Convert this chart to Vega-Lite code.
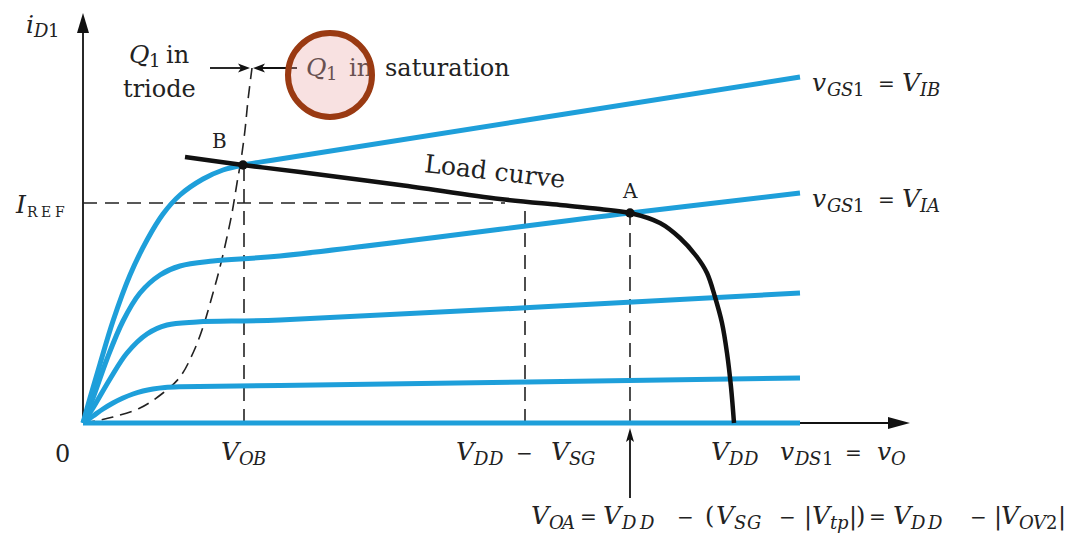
{
  "$schema": "https://vega.github.io/schema/vega-lite/v6.json",
  "width": 1086,
  "height": 537,
  "autosize": {"type": "fit", "contains": "padding"},
  "padding": 0,
  "background": "white",
  "config": {"view": {"stroke": null}, "text": {"font": "DejaVu Serif", "color": "#222222", "align": "left", "baseline": "alphabetic"}},
  "encoding": {
    "x": {"field": "x", "type": "quantitative", "scale": {"domain": [-8.3, 100.3], "nice": false, "zero": false}, "axis": null},
    "y": {"field": "y", "type": "quantitative", "scale": {"domain": [-11.4, 42.3], "nice": false, "zero": false}, "axis": null}
  },
  "datasets": {
    "axes": [
      {"x": 0, "y": 0, "x2": 0, "y2": 39.0},
      {"x": 0, "y": 0, "x2": 80.5, "y2": 0},
      {"x": 12.7, "y": 35.5, "x2": 15.8, "y2": 35.5},
      {"x": 17.9, "y": 35.5, "x2": 21.4, "y2": 35.5},
      {"x": 54.7, "y": -7.5, "x2": 54.7, "y2": -1.0}
    ],
    "guides": [
      {"x": 0, "y": 22.0, "x2": 42.2, "y2": 22.0},
      {"x": 16.1, "y": 0, "x2": 16.1, "y2": 25.8},
      {"x": 44.2, "y": 0, "x2": 44.2, "y2": 22.1},
      {"x": 54.7, "y": 0, "x2": 54.7, "y2": 21.0}
    ],
    "edge": [
      {"x": 0, "y": 0}, {"x": 0.7, "y": 0.1}, {"x": 3.0, "y": 0.6}, {"x": 5.7, "y": 1.5},
      {"x": 8.0, "y": 3.0}, {"x": 9.7, "y": 4.6}, {"x": 11.0, "y": 7.0}, {"x": 12.0, "y": 9.6},
      {"x": 13.0, "y": 13.0}, {"x": 13.7, "y": 15.6}, {"x": 14.4, "y": 18.6}, {"x": 14.9, "y": 21.0},
      {"x": 15.4, "y": 24.0}, {"x": 15.8, "y": 26.3}, {"x": 16.2, "y": 29.3}, {"x": 16.5, "y": 32.3},
      {"x": 16.9, "y": 35.5}
    ],
    "curves": [
      {"c": "c1", "x": 0, "y": 0}, {"c": "c1", "x": 71.7, "y": 0},
      {"c": "c2", "x": 0, "y": 0}, {"c": "c2", "x": 1.0, "y": 0.7}, {"c": "c2", "x": 2.0, "y": 1.4},
      {"c": "c2", "x": 3.0, "y": 2.0}, {"c": "c2", "x": 4.0, "y": 2.5}, {"c": "c2", "x": 5.0, "y": 2.9},
      {"c": "c2", "x": 6.0, "y": 3.2}, {"c": "c2", "x": 7.0, "y": 3.4}, {"c": "c2", "x": 8.2, "y": 3.55},
      {"c": "c2", "x": 9.7, "y": 3.62}, {"c": "c2", "x": 19.7, "y": 3.75}, {"c": "c2", "x": 71.7, "y": 4.5},
      {"c": "c3", "x": 0, "y": 0}, {"c": "c3", "x": 1.0, "y": 1.5}, {"c": "c3", "x": 2.7, "y": 4.4},
      {"c": "c3", "x": 4.4, "y": 7.0}, {"c": "c3", "x": 6.4, "y": 8.9}, {"c": "c3", "x": 8.4, "y": 9.8},
      {"c": "c3", "x": 11.4, "y": 10.1}, {"c": "c3", "x": 19.7, "y": 10.3}, {"c": "c3", "x": 71.7, "y": 13.0},
      {"c": "c4", "x": 0, "y": 0}, {"c": "c4", "x": 1.0, "y": 2.5}, {"c": "c4", "x": 2.4, "y": 6.4},
      {"c": "c4", "x": 4.0, "y": 10.2}, {"c": "c4", "x": 5.7, "y": 13.0}, {"c": "c4", "x": 7.7, "y": 14.8},
      {"c": "c4", "x": 9.7, "y": 15.7}, {"c": "c4", "x": 13.0, "y": 16.2}, {"c": "c4", "x": 19.7, "y": 16.7},
      {"c": "c4", "x": 54.7, "y": 21.0}, {"c": "c4", "x": 71.7, "y": 23.0},
      {"c": "c5", "x": 0, "y": 0}, {"c": "c5", "x": 0.7, "y": 2.5}, {"c": "c5", "x": 1.7, "y": 5.9},
      {"c": "c5", "x": 3.0, "y": 10.2}, {"c": "c5", "x": 4.7, "y": 14.8}, {"c": "c5", "x": 6.4, "y": 18.3},
      {"c": "c5", "x": 8.0, "y": 20.9}, {"c": "c5", "x": 9.7, "y": 22.8}, {"c": "c5", "x": 12.0, "y": 24.4},
      {"c": "c5", "x": 14.0, "y": 25.3}, {"c": "c5", "x": 16.0, "y": 25.8}, {"c": "c5", "x": 19.7, "y": 26.4},
      {"c": "c5", "x": 71.7, "y": 34.6}
    ],
    "load": [
      {"x": 10.2, "y": 26.6}, {"x": 16.0, "y": 25.8}, {"x": 21.7, "y": 25.1}, {"x": 31.7, "y": 23.8},
      {"x": 41.7, "y": 22.4}, {"x": 47.7, "y": 21.8}, {"x": 51.7, "y": 21.4}, {"x": 54.7, "y": 21.0},
      {"x": 57.7, "y": 20.0}, {"x": 59.7, "y": 18.5}, {"x": 61.4, "y": 16.6}, {"x": 62.4, "y": 15.0},
      {"x": 63.2, "y": 12.6}, {"x": 63.9, "y": 10.0}, {"x": 64.4, "y": 7.0}, {"x": 64.8, "y": 3.6},
      {"x": 65.1, "y": 0}
    ],
    "heads": [
      {"k": "up", "x": 0, "y": 40.0},
      {"k": "right", "x": 81.6, "y": 0},
      {"k": "tipR", "x": 16.1, "y": 35.5},
      {"k": "tipL", "x": 17.6, "y": 35.5},
      {"k": "tipU", "x": 54.7, "y": -1.2}
    ],
    "dots": [
      {"p": "B", "x": 16.0, "y": 25.8},
      {"p": "A", "x": 54.7, "y": 21.0}
    ],
    "ring": [{"x": 24.7, "y": 34.8}],
    "labels": [
      {"t": "i", "x": -5.7, "y": 39.0, "role": "sym"},
      {"t": "D", "x": -4.9, "y": 38.6, "role": "sub"},
      {"t": "1", "x": -3.5, "y": 38.6, "role": "num"},
      {"t": "I", "x": -6.7, "y": 21.0, "role": "sym"},
      {"t": "R", "x": -5.6, "y": 20.6, "role": "ref"},
      {"t": "E", "x": -4.2, "y": 20.6, "role": "ref"},
      {"t": "F", "x": -2.8, "y": 20.6, "role": "ref"},
      {"t": "Q", "x": 4.6, "y": 36.0, "role": "sym"},
      {"t": "1", "x": 6.6, "y": 35.6, "role": "num"},
      {"t": "in", "x": 8.3, "y": 36.0, "role": "word"},
      {"t": "triode", "x": 4.0, "y": 32.6, "role": "word"},
      {"t": "Q", "x": 22.3, "y": 34.7, "role": "sym"},
      {"t": "1", "x": 24.3, "y": 34.3, "role": "num"},
      {"t": "in", "x": 26.6, "y": 34.7, "role": "word"},
      {"t": "saturation", "x": 30.2, "y": 34.7, "role": "word"},
      {"t": "B", "x": 12.9, "y": 27.5, "role": "pt"},
      {"t": "A", "x": 54.0, "y": 22.5, "role": "pt"},
      {"t": "Load curve", "x": 41.1, "y": 24.3, "role": "rot"},

      {"t": "v", "x": 72.9, "y": 33.2, "role": "sym"},
      {"t": "G", "x": 74.4, "y": 32.7, "role": "sub"},
      {"t": "S", "x": 75.8, "y": 32.7, "role": "sub"},
      {"t": "1", "x": 77.0, "y": 32.7, "role": "num"},
      {"t": "=", "x": 79.5, "y": 33.2, "role": "op"},
      {"t": "V", "x": 81.9, "y": 33.2, "role": "sym"},
      {"t": "I", "x": 83.7, "y": 32.7, "role": "sub"},
      {"t": "B", "x": 84.4, "y": 32.7, "role": "sub"},

      {"t": "v", "x": 72.9, "y": 21.6, "role": "sym"},
      {"t": "G", "x": 74.4, "y": 21.1, "role": "sub"},
      {"t": "S", "x": 75.8, "y": 21.1, "role": "sub"},
      {"t": "1", "x": 77.0, "y": 21.1, "role": "num"},
      {"t": "=", "x": 79.5, "y": 21.6, "role": "op"},
      {"t": "V", "x": 81.9, "y": 21.6, "role": "sym"},
      {"t": "I", "x": 83.7, "y": 21.1, "role": "sub"},
      {"t": "A", "x": 84.4, "y": 21.1, "role": "sub"},

      {"t": "0", "x": -2.8, "y": -3.9, "role": "word"},
      {"t": "V", "x": 13.8, "y": -3.7, "role": "sym"},
      {"t": "O", "x": 15.6, "y": -4.2, "role": "sub"},
      {"t": "B", "x": 17.0, "y": -4.2, "role": "sub"},
      {"t": "V", "x": 37.3, "y": -3.7, "role": "sym"},
      {"t": "D", "x": 39.1, "y": -4.2, "role": "sub"},
      {"t": "D", "x": 40.6, "y": -4.2, "role": "sub"},
      {"t": "−", "x": 43.3, "y": -3.7, "role": "op"},
      {"t": "V", "x": 46.8, "y": -3.7, "role": "sym"},
      {"t": "S", "x": 48.6, "y": -4.2, "role": "sub"},
      {"t": "G", "x": 49.8, "y": -4.2, "role": "sub"},
      {"t": "V", "x": 62.8, "y": -3.7, "role": "sym"},
      {"t": "D", "x": 64.6, "y": -4.2, "role": "sub"},
      {"t": "D", "x": 66.1, "y": -4.2, "role": "sub"},
      {"t": "v", "x": 69.7, "y": -3.7, "role": "sym"},
      {"t": "D", "x": 71.2, "y": -4.2, "role": "sub"},
      {"t": "S", "x": 72.6, "y": -4.2, "role": "sub"},
      {"t": "1", "x": 73.9, "y": -4.2, "role": "num"},
      {"t": "=", "x": 76.2, "y": -3.7, "role": "op"},
      {"t": "v", "x": 79.4, "y": -3.7, "role": "sym"},
      {"t": "O", "x": 80.8, "y": -4.2, "role": "sub"},

      {"t": "V", "x": 44.8, "y": -10.1, "role": "sym"},
      {"t": "O", "x": 46.6, "y": -10.6, "role": "sub"},
      {"t": "A", "x": 47.9, "y": -10.6, "role": "sub"},
      {"t": "=", "x": 49.7, "y": -10.1, "role": "op"},
      {"t": "V", "x": 52.0, "y": -10.1, "role": "sym"},
      {"t": "D", "x": 53.9, "y": -10.6, "role": "sub"},
      {"t": "D", "x": 55.7, "y": -10.6, "role": "sub"},
      {"t": "−", "x": 59.4, "y": -10.1, "role": "op"},
      {"t": "(", "x": 62.2, "y": -10.1, "role": "word"},
      {"t": "V", "x": 63.3, "y": -10.1, "role": "sym"},
      {"t": "S", "x": 65.1, "y": -10.6, "role": "sub"},
      {"t": "G", "x": 66.4, "y": -10.6, "role": "sub"},
      {"t": "−", "x": 69.6, "y": -10.1, "role": "op"},
      {"t": "|", "x": 72.1, "y": -10.1, "role": "word"},
      {"t": "V", "x": 72.9, "y": -10.1, "role": "sym"},
      {"t": "t", "x": 74.7, "y": -10.6, "role": "sub"},
      {"t": "p", "x": 75.4, "y": -10.6, "role": "sub"},
      {"t": "|", "x": 76.6, "y": -10.1, "role": "word"},
      {"t": ")", "x": 77.3, "y": -10.1, "role": "word"},
      {"t": "=", "x": 78.6, "y": -10.1, "role": "op"},
      {"t": "V", "x": 81.0, "y": -10.1, "role": "sym"},
      {"t": "D", "x": 82.8, "y": -10.6, "role": "sub"},
      {"t": "D", "x": 84.5, "y": -10.6, "role": "sub"},
      {"t": "−", "x": 88.7, "y": -10.1, "role": "op"},
      {"t": "|", "x": 91.1, "y": -10.1, "role": "word"},
      {"t": "V", "x": 91.8, "y": -10.1, "role": "sym"},
      {"t": "O", "x": 93.6, "y": -10.6, "role": "sub"},
      {"t": "V", "x": 95.0, "y": -10.6, "role": "sub"},
      {"t": "2", "x": 96.3, "y": -10.6, "role": "num"},
      {"t": "|", "x": 97.5, "y": -10.1, "role": "word"}
    ]
  },
  "layer": [
    {
      "data": {"name": "axes"},
      "mark": {"type": "rule", "color": "#111111", "strokeWidth": 1.8},
      "encoding": {"x2": {"field": "x2"}, "y2": {"field": "y2"}}
    },
    {
      "data": {"name": "guides"},
      "mark": {"type": "rule", "color": "#222222", "strokeWidth": 1.6, "strokeDash": [14, 8]},
      "encoding": {"x2": {"field": "x2"}, "y2": {"field": "y2"}}
    },
    {
      "data": {"name": "edge"},
      "mark": {"type": "line", "color": "#222222", "strokeWidth": 1.6, "strokeDash": [12, 7], "interpolate": "catmull-rom"}
    },
    {
      "data": {"name": "curves"},
      "mark": {"type": "line", "color": "#1E9FDA", "strokeWidth": 5, "interpolate": "catmull-rom"},
      "encoding": {"detail": {"field": "c", "type": "nominal"}}
    },
    {
      "data": {"name": "load"},
      "mark": {"type": "line", "color": "#111111", "strokeWidth": 4.5, "interpolate": "catmull-rom"}
    },
    {
      "data": {"name": "heads"},
      "mark": {"type": "point", "filled": true, "size": 400, "color": "#111111", "opacity": 1},
      "encoding": {
        "shape": {
          "field": "k", "type": "nominal", "legend": null,
          "scale": {
            "domain": ["up", "right", "tipR", "tipL", "tipU"],
            "range": [
              "M0,-1L0.6,1L-0.6,1Z",
              "M1.1,0L-1.1,-0.6L-1.1,0.6Z",
              "M0.6,0L-0.6,-0.45L-0.3,0L-0.6,0.45Z",
              "M-0.6,0L0.6,-0.45L0.3,0L0.6,0.45Z",
              "M0,-0.7L0.4,0.7L0,0.4L-0.4,0.7Z"
            ]
          }
        }
      }
    },
    {
      "data": {"name": "dots"},
      "mark": {"type": "point", "shape": "circle", "filled": true, "size": 90, "color": "#111111", "opacity": 1}
    },
    {
      "data": {"name": "labels"},
      "transform": [{"filter": "datum.role === 'sym'"}],
      "mark": {"type": "text", "font": "DejaVu Serif", "fontStyle": "italic", "fontSize": 25},
      "encoding": {"text": {"field": "t"}}
    },
    {
      "data": {"name": "labels"},
      "transform": [{"filter": "datum.role === 'sub'"}],
      "mark": {"type": "text", "font": "DejaVu Serif", "fontStyle": "italic", "fontSize": 18},
      "encoding": {"text": {"field": "t"}}
    },
    {
      "data": {"name": "labels"},
      "transform": [{"filter": "datum.role === 'num'"}],
      "mark": {"type": "text", "font": "DejaVu Serif", "fontSize": 18},
      "encoding": {"text": {"field": "t"}}
    },
    {
      "data": {"name": "labels"},
      "transform": [{"filter": "datum.role === 'word'"}],
      "mark": {"type": "text", "font": "DejaVu Serif", "fontSize": 24},
      "encoding": {"text": {"field": "t"}}
    },
    {
      "data": {"name": "labels"},
      "transform": [{"filter": "datum.role === 'op'"}],
      "mark": {"type": "text", "font": "DejaVu Serif", "fontSize": 20},
      "encoding": {"text": {"field": "t"}}
    },
    {
      "data": {"name": "labels"},
      "transform": [{"filter": "datum.role === 'pt'"}],
      "mark": {"type": "text", "font": "DejaVu Serif", "fontSize": 20},
      "encoding": {"text": {"field": "t"}}
    },
    {
      "data": {"name": "labels"},
      "transform": [{"filter": "datum.role === 'ref'"}],
      "mark": {"type": "text", "font": "DejaVu Serif", "fontSize": 14},
      "encoding": {"text": {"field": "t"}}
    },
    {
      "data": {"name": "labels"},
      "transform": [{"filter": "datum.role === 'rot'"}],
      "mark": {"type": "text", "font": "DejaVu Serif", "fontSize": 25, "align": "center", "angle": 6.5},
      "encoding": {"text": {"field": "t"}}
    },
    {
      "data": {"name": "ring"},
      "mark": {"type": "point", "shape": "circle", "filled": true, "size": 7056, "fill": "#EBAAAA", "fillOpacity": 0.35, "stroke": "#9A3A12", "strokeWidth": 6, "strokeOpacity": 1}
    }
  ]
}
